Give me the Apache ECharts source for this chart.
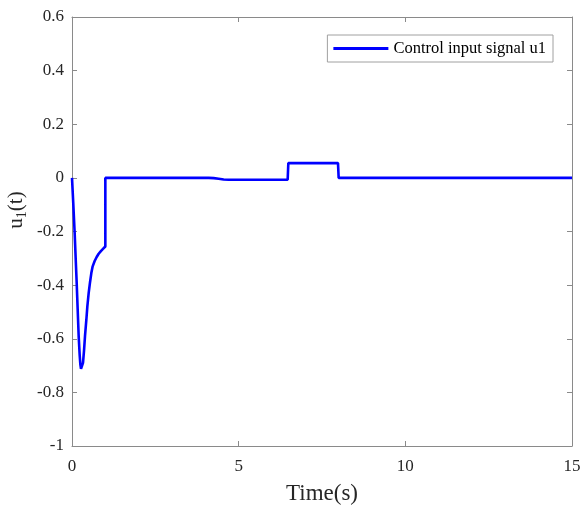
<!DOCTYPE html>
<html>
<head>
<meta charset="utf-8">
<script src="https://cdn.jsdelivr.net/npm/echarts@6/dist/echarts.min.js"></script>
<style>html,body{margin:0;padding:0;background:#fff;}#c{width:583px;height:506px;}</style>
</head>
<body>
<div id="c"></div>
<script>
// Time samples (s) and control input u1 values
var timeValues = [0, 0.04, 0.08, 0.11, 0.14, 0.17, 0.2, 0.23, 0.25, 0.27, 0.29, 0.31, 0.33, 0.36, 0.39, 0.43, 0.46, 0.5, 0.54, 0.58, 0.62, 0.68, 0.74, 0.8, 0.86, 0.93, 1.0, 1.0, 4.1, 4.25, 4.4, 4.55, 4.7, 6.47, 6.49, 6.53, 6.6, 7.98, 8.0, 15];
var u1Values   = [0, -0.1, -0.206, -0.3, -0.39, -0.49, -0.59, -0.66, -0.695, -0.712, -0.716, -0.71, -0.69, -0.645, -0.59, -0.53, -0.48, -0.43, -0.39, -0.355, -0.33, -0.31, -0.295, -0.283, -0.274, -0.265, -0.256, 0, 0, -0.001, -0.003, -0.006, -0.007, -0.007, 0.055, 0.062, 0.055, 0.055, 0, 0];
var xTicks = [0, 5, 10, 15];
var yTicks = [-1, -0.8, -0.6, -0.4, -0.2, 0, 0.2, 0.4, 0.6];
var seriesName = 'Control input signal u1';

var chart = echarts.init(document.getElementById('c'), null, {renderer: 'canvas'});
var axisColor = '#8a8a8a';
var textColor = '#262626';
var font = 'Liberation Serif';
var data = timeValues.map(function (t, i) { return [t, u1Values[i]]; });

chart.setOption({
  animation: false,
  backgroundColor: '#fff',
  grid: {left: 72, right: 11, top: 17, bottom: 60, containLabel: false, outerBoundsMode: 'none'},
  legend: {
    right: 30, top: 35,
    orient: 'vertical',
    backgroundColor: '#fff',
    borderColor: '#a0a0a0', borderWidth: 1,
    padding: [5, 7, 5, 6],
    itemWidth: 55, itemHeight: 3, itemGap: 0,
    icon: 'rect',
    textStyle: {fontFamily: font, fontSize: 16.5, color: '#000'},
    data: [seriesName]
  },
  xAxis: [{
    type: 'value', min: 0, max: 15, interval: 5,
    axisLine: {show: true, onZero: false, lineStyle: {color: axisColor, width: 1}},
    axisTick: {show: true, inside: true, length: 5, lineStyle: {color: axisColor}},
    axisLabel: {margin: 12, fontFamily: font, fontSize: 17, color: textColor},
    splitLine: {show: false},
    name: 'Time(s)', nameLocation: 'middle', nameGap: 36,
    nameTextStyle: {fontFamily: font, fontSize: 23, color: textColor}
  }, {
    type: 'value', min: 0, max: 15, interval: 5, position: 'top',
    axisLine: {show: true, onZero: false, lineStyle: {color: axisColor, width: 1}},
    axisTick: {show: true, inside: true, length: 5, lineStyle: {color: axisColor}},
    axisLabel: {show: false}, splitLine: {show: false}
  }],
  yAxis: [{
    type: 'value', min: -1, max: 0.6, interval: 0.2,
    axisLine: {show: true, onZero: false, lineStyle: {color: axisColor, width: 1}},
    axisTick: {show: true, inside: true, length: 5, lineStyle: {color: axisColor}},
    axisLabel: {margin: 8, fontFamily: font, fontSize: 17, color: textColor,
      formatter: function (v) { var r = Math.round(v * 10) / 10; return yTicks.indexOf(r) >= 0 ? String(r) : ''; }},
    splitLine: {show: false}
  }, {
    type: 'value', min: -1, max: 0.6, interval: 0.2, position: 'right',
    axisLine: {show: true, onZero: false, lineStyle: {color: axisColor, width: 1}},
    axisTick: {show: true, inside: true, length: 5, lineStyle: {color: axisColor}},
    axisLabel: {show: false}, splitLine: {show: false}
  }],
  graphic: [{
    type: 'text', x: 16, y: 210, rotation: Math.PI / 2, originX: 0, originY: 0,
    style: {
      text: '{u|u}{s|1}{u|(t)}',
      rich: {
        u: {fontFamily: font, fontSize: 21, fill: textColor},
        s: {fontFamily: font, fontSize: 14, fill: textColor, padding: [12, 0, 0, 0]}
      },
      fill: textColor, align: 'center', verticalAlign: 'middle'
    }
  }],
  series: [{
    name: seriesName, type: 'line', xAxisIndex: 0, yAxisIndex: 0,
    data: data, showSymbol: false, symbol: 'none',
    lineStyle: {color: '#0000ff', width: 2.6}, itemStyle: {color: '#0000ff'}
  }]
});
</script>
</body>
</html>
